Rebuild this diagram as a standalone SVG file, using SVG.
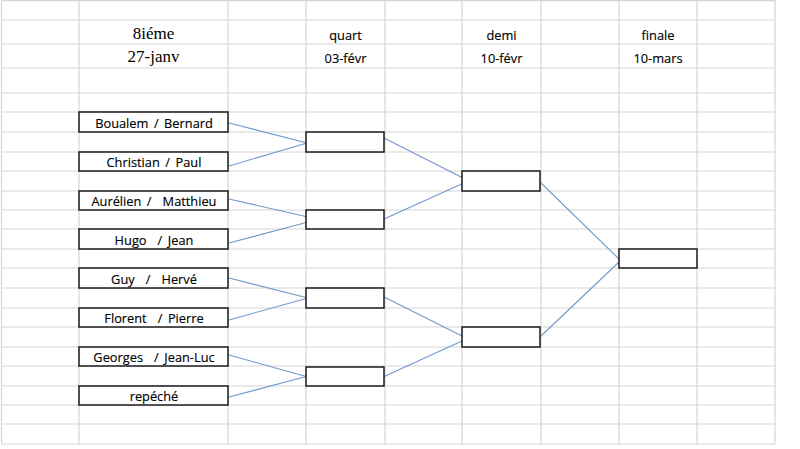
<svg xmlns="http://www.w3.org/2000/svg" width="800" height="449" viewBox="0 0 800 449">
<style>
.grid line{stroke:#d6d6d6;stroke-width:1.2}
.box{fill:#fff;stroke:#1a1a1a;stroke-width:1.5}
.lbl{font-family:"Open Sans","Liberation Sans",sans-serif;font-size:12.8px;fill:#000;text-anchor:middle;white-space:pre;word-spacing:2.2px;stroke:#000;stroke-width:0.15}
.hdr{font-family:"Open Sans","Liberation Sans",sans-serif;font-size:12.8px;fill:#000;text-anchor:middle;stroke:#000;stroke-width:0.15}
.ser{font-family:"Liberation Serif","Times New Roman",serif;font-size:17px;fill:#000;text-anchor:middle}
.conn line{stroke:#7198cc;stroke-width:1.1;fill:none}
</style>
<rect x="0" y="0" width="800" height="449" fill="#fff"/>
<g class="grid" id="grid">
<line x1="1.5" y1="0" x2="1.5" y2="444"/>
<line x1="79" y1="0" x2="79" y2="444"/>
<line x1="228" y1="0" x2="228" y2="444"/>
<line x1="306" y1="0" x2="306" y2="444"/>
<line x1="385" y1="0" x2="385" y2="444"/>
<line x1="462" y1="0" x2="462" y2="444"/>
<line x1="541" y1="0" x2="541" y2="444"/>
<line x1="619" y1="0" x2="619" y2="444"/>
<line x1="697" y1="0" x2="697" y2="444"/>
<line x1="775" y1="0" x2="775" y2="444"/>
<line x1="1" y1="0.6" x2="775" y2="0.6"/>
<line x1="1" y1="20" x2="775" y2="20"/>
<line x1="1" y1="44" x2="775" y2="44"/>
<line x1="1" y1="68" x2="775" y2="68"/>
<line x1="1" y1="93" x2="775" y2="93"/>
<line x1="1" y1="112" x2="775" y2="112"/>
<line x1="1" y1="132" x2="775" y2="132"/>
<line x1="1" y1="152" x2="775" y2="152"/>
<line x1="1" y1="171" x2="775" y2="171"/>
<line x1="1" y1="191" x2="775" y2="191"/>
<line x1="1" y1="210" x2="775" y2="210"/>
<line x1="1" y1="229" x2="775" y2="229"/>
<line x1="1" y1="249" x2="775" y2="249"/>
<line x1="1" y1="268" x2="775" y2="268"/>
<line x1="1" y1="288" x2="775" y2="288"/>
<line x1="1" y1="308" x2="775" y2="308"/>
<line x1="1" y1="327" x2="775" y2="327"/>
<line x1="1" y1="347" x2="775" y2="347"/>
<line x1="1" y1="366" x2="775" y2="366"/>
<line x1="1" y1="386" x2="775" y2="386"/>
<line x1="1" y1="405" x2="775" y2="405"/>
<line x1="1" y1="424" x2="775" y2="424"/>
<line x1="1" y1="444" x2="775" y2="444"/>
</g>
<g id="headers">
<text class="ser" x="153.5" y="39">8iéme</text>
<text class="ser" x="153.5" y="62">27-janv</text>
<text class="hdr" x="345.5" y="40">quart</text>
<text class="hdr" x="345.5" y="63">03-févr</text>
<text class="hdr" x="501.5" y="40">demi</text>
<text class="hdr" x="501.5" y="63">10-févr</text>
<text class="hdr" x="658" y="40">finale</text>
<text class="hdr" x="658" y="63">10-mars</text>
</g>
<g class="conn" id="connectors">
<line x1="229" y1="123" x2="307" y2="143"/>
<line x1="229" y1="166" x2="307" y2="143"/>
<line x1="229" y1="199" x2="308" y2="217"/>
<line x1="229" y1="243" x2="308" y2="222"/>
<line x1="229" y1="278" x2="308" y2="298"/>
<line x1="229" y1="320" x2="308" y2="298"/>
<line x1="229" y1="355" x2="308" y2="377"/>
<line x1="229" y1="397" x2="308" y2="376"/>
<line x1="384" y1="138" x2="465" y2="179"/>
<line x1="384" y1="219" x2="466" y2="182"/>
<line x1="384" y1="297" x2="462" y2="336"/>
<line x1="383" y1="377" x2="462" y2="341"/>
<line x1="540" y1="182" x2="620" y2="260"/>
<line x1="540" y1="337" x2="619" y2="262"/>
</g>
<g id="p1"><rect class="box" x="79" y="112" width="149" height="20"/><text class="lbl" x="154" y="128">Boualem / Bernard</text></g>
<g id="p2"><rect class="box" x="79" y="152" width="149" height="19"/><text class="lbl" x="154" y="167">Christian / Paul</text></g>
<g id="p3"><rect class="box" x="79" y="191" width="149" height="19"/><text class="lbl" x="154" y="206">Aurélien /  Matthieu</text></g>
<g id="p4"><rect class="box" x="79" y="229" width="149" height="20"/><text class="lbl" x="154" y="245">Hugo  / Jean</text></g>
<g id="p5"><rect class="box" x="79" y="268" width="149" height="20"/><text class="lbl" x="154" y="284">Guy  /  Hervé</text></g>
<g id="p6"><rect class="box" x="79" y="308" width="149" height="19"/><text class="lbl" x="154" y="323">Florent  / Pierre</text></g>
<g id="p7"><rect class="box" x="79" y="347" width="149" height="19"/><text class="lbl" x="154" y="362">Georges  / Jean-Luc</text></g>
<g id="p8"><rect class="box" x="79" y="386" width="149" height="19"/><text class="lbl" x="154" y="401">repéché</text></g>
<g id="q1"><rect class="box" x="306" y="132" width="78" height="20"/></g>
<g id="q2"><rect class="box" x="306" y="210" width="78" height="19"/></g>
<g id="q3"><rect class="box" x="306" y="288" width="78" height="20"/></g>
<g id="q4"><rect class="box" x="306" y="367" width="78" height="19"/></g>
<g id="d1"><rect class="box" x="462" y="171" width="78" height="20"/></g>
<g id="d2"><rect class="box" x="462" y="327" width="78" height="20"/></g>
<g id="f1"><rect class="box" x="619" y="249" width="78" height="19"/></g>
</svg>
